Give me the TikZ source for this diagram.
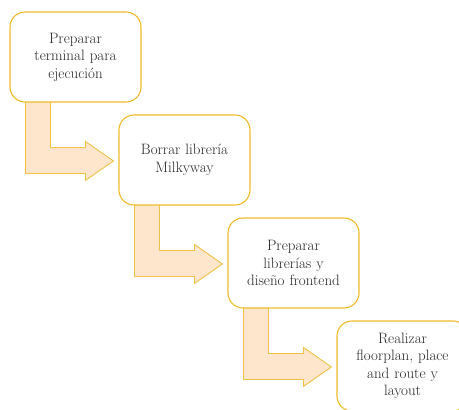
\documentclass[tikz,border=0pt]{standalone}
\usetikzlibrary{backgrounds}
\definecolor{boxline}{RGB}{240,186,40}
\definecolor{arrfill}{RGB}{253,230,203}
\definecolor{arrline}{RGB}{242,194,70}
\tikzset{
  stepbox/.style={draw=boxline, line width=1.1pt, fill=white, rounded corners=15pt,
    minimum width=131pt, minimum height=90pt, text width=126pt, align=center,
    inner sep=0pt, text=black!85, font=\fontsize{15}{17.5}\selectfont},
  bentarrow/.style={draw=arrline, fill=arrfill, line width=0.9pt, line join=miter}
}
\newcommand{\bentarr}[1]{%
  \draw[bentarrow, shift={(#1.north west)}]
    (16,90) -- (16,162) -- (76,162) -- (76,169) -- (104,149.5) -- (76,130)
    -- (76,136) -- (41,136) -- (41,90) -- cycle;}
\begin{document}
\begin{tikzpicture}[x=1pt,y=-1pt]
\useasboundingbox (0,0) rectangle (459,410);
\clip (0,0) rectangle (459,410);
\node[stepbox] (b1) at (75.5,57) {Preparar\\terminal para\\ejecución};
\node[stepbox] (b2) at (184.5,160) {Borrar librería\\Milkyway};
\node[stepbox] (b3) at (293.5,263) {Preparar\\librerías y\\diseño frontend};
\node[stepbox] (b4) at (402.5,366) {Realizar\\floorplan, place\\and route y\\layout};
\begin{scope}[on background layer]
\bentarr{b1}
\bentarr{b2}
\bentarr{b3}
\end{scope}
\end{tikzpicture}
\end{document}
